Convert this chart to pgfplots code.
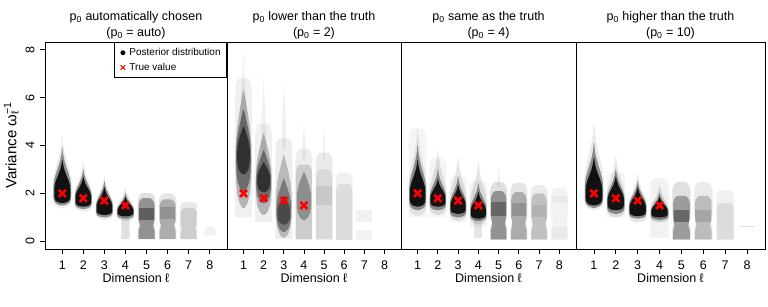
\documentclass[border=0pt]{standalone}
\usepackage{fontspec}
\setmainfont{Liberation Sans}
\usepackage{pgfplots}
\usepackage{pgfplotstable}
\pgfplotsset{compat=1.18}

% shape templates: signed half-width w (fraction of max), relative height t
\pgfplotstableread{
w t
0.15 0.00
0.55 0.02
0.82 0.05
0.96 0.10
1.00 0.16
1.00 0.34
0.92 0.44
0.75 0.54
0.50 0.65
0.28 0.76
0.14 0.86
0.07 0.93
0.03 1.00
-0.03 1.00
-0.07 0.93
-0.14 0.86
-0.28 0.76
-0.50 0.65
-0.75 0.54
-0.92 0.44
-1.00 0.34
-1.00 0.16
-0.96 0.10
-0.82 0.05
-0.55 0.02
-0.15 0.00
}\ttear
\pgfplotstableread{
w t
0.15 0.00
0.50 0.04
0.80 0.12
0.96 0.25
1.00 0.40
0.96 0.55
0.80 0.68
0.55 0.80
0.30 0.90
0.12 0.97
0.04 1.00
-0.04 1.00
-0.12 0.97
-0.30 0.90
-0.55 0.80
-0.80 0.68
-0.96 0.55
-1.00 0.40
-0.96 0.25
-0.80 0.12
-0.50 0.04
-0.15 0.00
}\tspin
\pgfplotstableread{
w t
1.00 0.00
1.00 0.20
0.84 0.30
0.84 0.35
1.00 0.46
1.00 0.84
0.90 0.92
0.65 0.98
0.40 1.00
-0.40 1.00
-0.65 0.98
-0.90 0.92
-1.00 0.84
-1.00 0.46
-0.84 0.35
-0.84 0.30
-1.00 0.20
-1.00 0.00
}\tcol
\pgfplotstableread{
w t
1.00 0.00
1.00 0.88
0.88 0.96
0.60 1.00
-0.60 1.00
-0.88 0.96
-1.00 0.88
-1.00 0.00
}\tbox
\pgfplotstableread{
w t
1 0
1 1
-1 1
-1 0
}\trect
\pgfplotstableread{
w t
1.0 0
0.6 1
-0.6 1
-1.0 0
}\ttrap

% one translucent layer: template, centre, bottom, top, half-width, opacity
\newcommand{\lay}[6]{\addplot[fill=black, fill opacity=#6, draw=none, forget plot]
  table[x expr={#2+#5*\thisrow{w}}, y expr={#3+(#4-#3)*\thisrow{t}}] {#1};}
\newcommand{\truth}{\addplot[only marks, mark=x, red, mark size=5bp, line width=2.6bp, forget plot]
  coordinates {(1,2.0) (2,1.8) (3,1.7) (4,1.5)};}

\pgfplotsset{panel/.style={
  scale only axis, height=207bp, anchor=south west,
  xmin=0.18, xmax=8.82, ymin=-0.32, ymax=8.32,
  xtick={1,...,8}, xtick pos=bottom, ytick pos=left, tick align=outside,
  major tick length=5bp, tick style={black, line width=0.8bp},
  axis line style={line width=0.8bp},
  /pgf/number format/assume math mode=true,
  tick label style={font=\fontsize{12.5bp}{14bp}\selectfont},
  xticklabel style={yshift=-3bp},
  xlabel={Dimension ℓ},
  xlabel style={font=\fontsize{12.5bp}{14bp}\selectfont, yshift=3bp},
  title style={font=\fontsize{12.5bp}{14bp}\selectfont, align=center, yshift=-7bp},
}}

\begin{document}
\begin{tikzpicture}
\useasboundingbox (0bp,0bp) rectangle (768bp,307bp);

% ---------------- panel 1 ----------------
\begin{axis}[panel, at={(45bp,58bp)}, width=182bp,
  ytick={0,2,4,6,8},
  yticklabel style={rotate=90, anchor=south},
  yticklabel shift=2bp,
  ylabel={Variance ω\rlap{\textsubscript{ℓ}}\textsuperscript{−1}},
  ylabel style={font=\fontsize{15bp}{17bp}\selectfont, yshift=0bp},
  title={p\textsubscript{0} automatically chosen\\[2bp](p\textsubscript{0} = auto)},
  legend style={at={(1,1)}, anchor=north east, draw=black, line width=0.8bp,
    font=\fontsize{10bp}{12bp}\selectfont, inner xsep=4bp, inner ysep=4bp,
    row sep=2bp, cells={anchor=west}},
  legend image code/.code={\path (-4bp,0) (4bp,0); \draw[#1] plot coordinates {(0bp,0bp)};},
]
\addlegendimage{only marks, mark=*, mark size=2bp, black}
\addlegendentry{Posterior distribution}
\addlegendimage{only marks, mark=x, mark size=3.2bp, red, line width=1.2bp}
\addlegendentry{True value}
% dim 1
\lay{\ttear}{1}{1.40}{4.40}{0.44}{0.08}
\lay{\ttear}{1}{1.50}{3.90}{0.42}{0.40}
\lay{\ttear}{1}{1.60}{3.40}{0.38}{0.88}
% dim 2
\lay{\ttear}{2}{1.25}{3.30}{0.42}{0.08}
\lay{\ttear}{2}{1.35}{3.00}{0.40}{0.40}
\lay{\ttear}{2}{1.45}{2.70}{0.37}{0.88}
% dim 3
\lay{\ttear}{3}{0.90}{2.70}{0.42}{0.08}
\lay{\ttear}{3}{1.00}{2.50}{0.40}{0.40}
\lay{\ttear}{3}{1.10}{2.25}{0.37}{0.88}
% dim 4
\lay{\tbox}{4}{0.10}{1.20}{0.20}{0.12}
\lay{\ttear}{4}{0.85}{2.25}{0.42}{0.10}
\lay{\ttear}{4}{0.95}{2.00}{0.40}{0.40}
\lay{\ttear}{4}{1.05}{1.85}{0.37}{0.85}
% dim 5
\lay{\tcol}{5}{0.08}{2.02}{0.42}{0.12}
\lay{\tcol}{5}{0.10}{1.80}{0.38}{0.35}
\lay{\trect}{5}{0.90}{1.40}{0.36}{0.35}
% dim 6
\lay{\tcol}{6}{0.08}{2.00}{0.42}{0.10}
\lay{\tcol}{6}{0.10}{1.75}{0.38}{0.25}
\lay{\trect}{6}{0.95}{1.45}{0.36}{0.15}
% dim 7
\lay{\tbox}{7}{0.08}{1.65}{0.40}{0.08}
\lay{\tcol}{7}{0.10}{1.40}{0.38}{0.12}
% dim 8
\lay{\ttrap}{8}{0.25}{0.60}{0.33}{0.05}
\truth
\end{axis}

% ---------------- panel 2 ----------------
\begin{axis}[panel, at={(227bp,58bp)}, width=174bp, ytick=\empty,
  title={p\textsubscript{0} lower than the truth\\[2bp](p\textsubscript{0} = 2)}]
% dim 1
\lay{\tbox}{1}{1.00}{6.80}{0.42}{0.06}
\lay{\ttear}{1}{4.50}{7.90}{0.14}{0.06}
\lay{\tspin}{1}{1.40}{6.30}{0.40}{0.25}
\lay{\tspin}{1}{2.10}{5.50}{0.37}{0.40}
\lay{\tspin}{1}{2.80}{4.80}{0.32}{0.55}
% dim 2
\lay{\tbox}{2}{0.80}{4.90}{0.42}{0.06}
\lay{\ttear}{2}{3.50}{6.90}{0.12}{0.06}
\lay{\tspin}{2}{1.10}{4.50}{0.40}{0.25}
\lay{\tspin}{2}{1.60}{3.80}{0.37}{0.40}
\lay{\tspin}{2}{2.05}{3.30}{0.32}{0.55}
% dim 3
\lay{\tbox}{3}{0.10}{4.30}{0.42}{0.07}
\lay{\ttear}{3}{3.80}{6.80}{0.10}{0.06}
\lay{\tspin}{3}{0.15}{3.60}{0.40}{0.22}
\lay{\tspin}{3}{0.40}{2.60}{0.37}{0.35}
\lay{\tspin}{3}{0.70}{1.90}{0.32}{0.40}
% dim 4
\lay{\tbox}{4}{0.06}{3.85}{0.42}{0.07}
\lay{\ttear}{4}{3.40}{5.00}{0.08}{0.06}
\lay{\tbox}{4}{0.10}{3.20}{0.40}{0.14}
\lay{\tspin}{4}{0.90}{2.90}{0.36}{0.30}
% dim 5
\lay{\tbox}{5}{0.06}{3.70}{0.42}{0.08}
\lay{\ttear}{5}{3.30}{4.90}{0.06}{0.05}
\lay{\tbox}{5}{0.10}{3.00}{0.40}{0.08}
\lay{\trect}{5}{1.50}{2.30}{0.38}{0.08}
% dim 6
\lay{\tbox}{6}{0.06}{2.85}{0.42}{0.06}
\lay{\tbox}{6}{0.06}{2.40}{0.40}{0.08}
% dim 7
\lay{\trect}{7}{0.81}{1.31}{0.40}{0.05}
\lay{\trect}{7}{0.06}{0.47}{0.40}{0.05}
\truth
\end{axis}

% ---------------- panel 3 ----------------
\begin{axis}[panel, at={(401bp,58bp)}, width=175bp, ytick=\empty,
  title={p\textsubscript{0} same as the truth\\[2bp](p\textsubscript{0} = 4)}]
% dim 1
\lay{\tbox}{1}{1.00}{4.70}{0.44}{0.04}
\lay{\ttear}{1}{1.05}{4.75}{0.44}{0.08}
\lay{\ttear}{1}{1.30}{4.00}{0.42}{0.40}
\lay{\ttear}{1}{1.45}{3.40}{0.38}{0.88}
% dim 2
\lay{\tbox}{2}{1.00}{3.50}{0.42}{0.04}
\lay{\ttear}{2}{1.10}{3.80}{0.42}{0.10}
\lay{\ttear}{2}{1.30}{3.00}{0.40}{0.40}
\lay{\ttear}{2}{1.45}{2.60}{0.37}{0.85}
% dim 3
\lay{\tbox}{3}{0.80}{2.70}{0.42}{0.04}
\lay{\ttear}{3}{0.85}{3.50}{0.42}{0.10}
\lay{\ttear}{3}{1.00}{2.70}{0.40}{0.40}
\lay{\ttear}{3}{1.15}{2.35}{0.37}{0.85}
% dim 4
\lay{\tbox}{4}{0.60}{2.50}{0.42}{0.05}
\lay{\trect}{4}{0.15}{1.00}{0.20}{0.10}
\lay{\ttear}{4}{0.70}{3.30}{0.42}{0.10}
\lay{\ttear}{4}{0.85}{2.40}{0.40}{0.40}
\lay{\ttear}{4}{0.95}{2.05}{0.37}{0.85}
% dim 5
\lay{\ttear}{5}{2.20}{3.20}{0.06}{0.06}
\lay{\tcol}{5}{0.06}{2.48}{0.42}{0.12}
\lay{\tcol}{5}{0.08}{2.10}{0.38}{0.35}
\lay{\trect}{5}{1.05}{1.65}{0.36}{0.30}
% dim 6
\lay{\tcol}{6}{0.06}{2.44}{0.42}{0.10}
\lay{\tcol}{6}{0.08}{2.05}{0.38}{0.25}
\lay{\trect}{6}{1.05}{1.60}{0.36}{0.15}
% dim 7
\lay{\tcol}{7}{0.06}{2.35}{0.42}{0.08}
\lay{\tcol}{7}{0.08}{2.00}{0.38}{0.18}
\lay{\trect}{7}{1.00}{1.50}{0.36}{0.08}
% dim 8
\lay{\tcol}{8}{0.06}{2.23}{0.42}{0.05}
\lay{\trect}{8}{1.60}{1.90}{0.38}{0.04}
\lay{\trect}{8}{0.10}{0.60}{0.38}{0.03}
\truth
\end{axis}

% ---------------- panel 4 ----------------
\begin{axis}[panel, at={(576bp,58bp)}, width=189bp, ytick=\empty,
  title={p\textsubscript{0} higher than the truth\\[2bp](p\textsubscript{0} = 10)}]
% dim 1
\lay{\ttear}{1}{1.30}{4.95}{0.44}{0.08}
\lay{\ttear}{1}{1.40}{4.10}{0.42}{0.40}
\lay{\ttear}{1}{1.50}{3.50}{0.38}{0.88}
% dim 2
\lay{\tbox}{2}{1.00}{2.90}{0.42}{0.04}
\lay{\ttear}{2}{1.00}{3.55}{0.42}{0.10}
\lay{\ttear}{2}{1.15}{3.00}{0.40}{0.40}
\lay{\ttear}{2}{1.30}{2.70}{0.37}{0.85}
% dim 3
\lay{\ttear}{3}{0.80}{2.80}{0.42}{0.10}
\lay{\ttear}{3}{0.95}{2.50}{0.40}{0.40}
\lay{\ttear}{3}{1.05}{2.25}{0.37}{0.88}
% dim 4
\lay{\tbox}{4}{0.14}{2.64}{0.42}{0.05}
\lay{\ttear}{4}{0.80}{2.30}{0.42}{0.15}
\lay{\ttear}{4}{0.90}{2.00}{0.40}{0.40}
\lay{\ttear}{4}{1.00}{1.85}{0.37}{0.85}
% dim 5
\lay{\tcol}{5}{0.06}{2.48}{0.42}{0.12}
\lay{\tcol}{5}{0.08}{1.90}{0.38}{0.30}
\lay{\trect}{5}{0.80}{1.30}{0.36}{0.35}
% dim 6
\lay{\tcol}{6}{0.06}{2.48}{0.42}{0.08}
\lay{\tcol}{6}{0.08}{1.90}{0.38}{0.20}
\lay{\trect}{6}{0.80}{1.30}{0.36}{0.12}
% dim 7
\lay{\tbox}{7}{0.06}{2.14}{0.40}{0.06}
\lay{\tbox}{7}{0.08}{1.60}{0.38}{0.08}
% dim 8
\lay{\trect}{8}{0.58}{0.63}{0.35}{0.12}
\truth
\end{axis}
\end{tikzpicture}
\end{document}
